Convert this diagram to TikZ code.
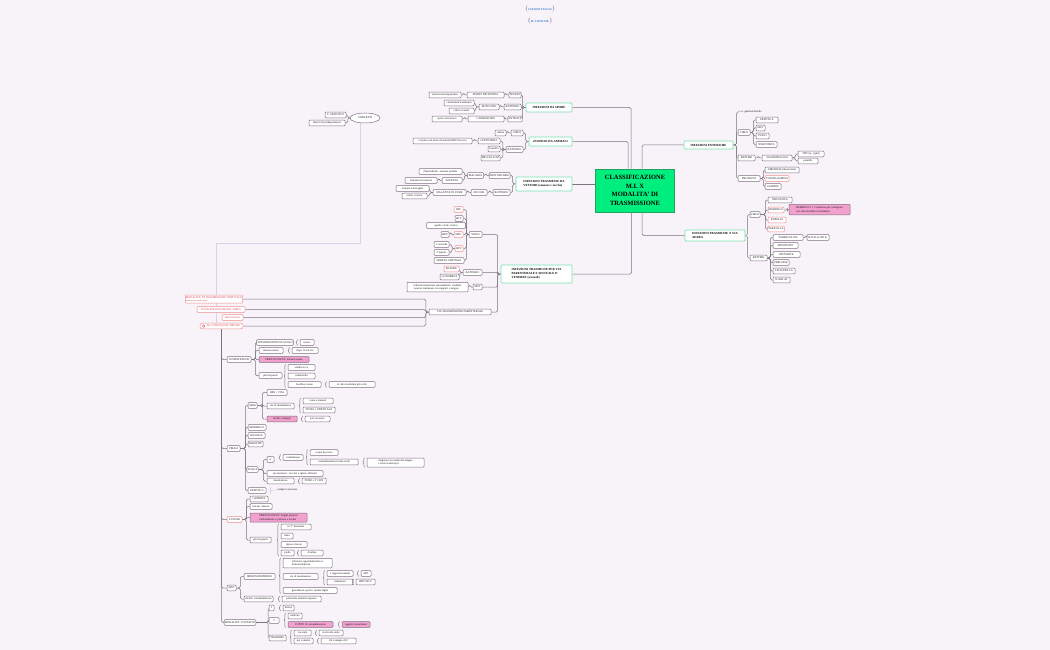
\documentclass[tikz,border=0pt]{standalone}
\usepackage{fontspec}
\setmainfont{Liberation Serif}
\usetikzlibrary{shapes.geometric,decorations.pathreplacing}
\definecolor{bgc}{RGB}{247,243,248}
\definecolor{lnc}{RGB}{125,113,130}
\definecolor{mint}{RGB}{120,225,175}
\definecolor{pinkb}{RGB}{240,140,140}
\definecolor{pinkf}{RGB}{242,160,205}
\definecolor{cgreen}{RGB}{0,238,125}
\definecolor{cbord}{RGB}{40,160,100}
\definecolor{relc}{RGB}{218,208,238}
\definecolor{bluet}{RGB}{50,120,210}
\definecolor{redt}{RGB}{215,60,75}
\pgfdeclarelayer{bg}
\pgfdeclarelayer{lns}
\pgfsetlayers{bg,lns,main}
\tikzset{
  box/.style={draw=lnc, fill=white, rounded corners=0.8pt, line width=0.5pt, inner sep=0.6pt,
    minimum height=5.6pt, font=\fontsize{2.8}{3.2}\selectfont, text=black!90},
  pk/.style={draw=pinkb},
  pkt/.style={draw=pinkb, text=redt},
  pf/.style={fill=pinkf, draw=lnc},
  topic/.style={draw=mint, fill=white, line width=0.7pt, rounded corners=1pt,
    font=\bfseries\fontsize{3.1}{3.9}\selectfont, align=left, inner sep=1.2pt},
  central/.style={draw=cbord, fill=cgreen, line width=0.6pt, align=center,
    font=\bfseries\fontsize{6.5}{8.6}\selectfont, minimum width=79pt, minimum height=43pt, inner sep=1pt},
  conn/.style={draw=lnc, line width=0.5pt, rounded corners=1.5pt},
  brc/.style={draw=lnc, line width=0.45pt, decorate, decoration={brace,amplitude=1.4pt}},
  rel/.style={draw=relc, line width=0.5pt},
  txt/.style={font=\fontsize{2.8}{3.2}\selectfont, inner sep=0.5pt, text=black!90},
  lab/.style={font=\bfseries\fontsize{2.8}{3.3}\selectfont, text=bluet, inner sep=0.5pt}
}
\newcommand\mybox[5][]{\node[box,minimum width=#4pt,#1] (#2) at (#3) {#5};}
\newcommand\lk[3][3]{\draw[conn] (#2.west) -- ++(-#1,0) |- (#3.east);}
\newcommand\rk[3][3]{\draw[conn] (#2.east) -- ++(#1,0) |- (#3.west);}
\newcommand\bk[2]{\draw[brc] ([xshift=-2.2pt]#2.south west) -- ([xshift=-2.2pt]#1.north west);}
\newcommand\paren[1]{\textcolor{lnc}{\fontsize{6.5}{6.5}\selectfont\mdseries(}\,#1\,\textcolor{lnc}{\fontsize{6.5}{6.5}\selectfont\mdseries)}}
\begin{document}
\begin{tikzpicture}[x=1pt,y=-1pt]
\begin{pgfonlayer}{bg}
\fill[bgc] (0,0) rectangle (1050,650);
\end{pgfonlayer}
\useasboundingbox (0,0) rectangle (1050,650);

% top labels
\node[lab] (t1) at (540,9) {\paren{LEZIONI TAGLIO}};
\node[lab] (t2) at (540,21) {\paren{M. STUDIATE}};

% central
\node[central] (cen) at (635,190.5) {CLASSIFICAZIONE\\M.I. X\\MODALITA' DI\\TRASMISSIONE};

% main topics
\node[topic,minimum width=46pt,minimum height=9pt] (spore) at (549,107.5) {INFEZIONI DA SPORE};
\node[topic,minimum width=43pt,minimum height=9pt] (zoo) at (550.5,141.5) {ZOONOSI DA ANIMALI};
\node[topic,minimum width=56pt,minimum height=14pt] (vet) at (544,184) {INFEZIONI TRASMESSE DA\\VETTORI (zanzare e zecche)};
\node[topic,minimum width=71pt,minimum height=18pt] (par) at (536.5,274) {INFEZIONI TRASMESSE PER VIA\\PARENTERALE E SESSUALE O\\VENEREE (sessuali)};
\node[topic,minimum width=49pt,minimum height=8pt] (ent) at (708.5,145) {INFEZIONI ENTERICHE};
\node[topic,minimum width=60pt,minimum height=11pt] (aer) at (715,235.5) {INFEZIONI TRASMESSE X VIA\\AEREA};

% spore
\mybox{s1}{515,95}{12}{TETANO}
\mybox{s1a}{485.5,95}{37}{FERITA PROFONDA}
\mybox{s1b}{445,95}{32}{tossina tetanospasmina}
\mybox{s2}{512.5,107}{17}{BATTERIO}
\mybox{s2a}{489,107}{20}{BOTULINO}
\mybox{s2b}{459,103}{30}{clostridium botulinum}
\mybox{s2c}{461.5,111}{25}{cibi in scatola}
\mybox{s3}{515,119}{12}{ANTRACE}
\mybox{s3a}{486,119}{36}{CARBONCHIO}
\mybox{s3b}{447,119}{30}{spore nel terreno}

% zoonosi
\mybox{z1}{517,133}{12}{VIRUS}
\mybox{z1a}{500.5,133}{11}{rabbia}
\mybox{z2}{514.5,149.5}{17}{BATTERIO}
\mybox{z2a}{489,141}{22}{LEPTOSPIRA}
\mybox{z2b}{442.5,141}{59}{contatto con urina di animali (RSO lavoro)}
\mybox{z2c}{494,149}{12}{brucella}
\mybox{z2d}{490.5,158}{19}{BRUCELLOSI}

% vettori
\mybox{v1}{499.5,175.5}{21}{PROTOZOARIO}
\mybox{v1a}{475.5,175.5}{16}{MALARIA}
\mybox{v1b}{440.5,171.5}{43}{Plasmodium - zanzara anofele}
\mybox{v1c}{452,180.5}{20}{ANOFELE}
\mybox{v1d}{421,180.5}{32}{femmina di zanzara}
\mybox{v2}{501.5,192.5}{17}{BATTERIO}
\mybox{v2a}{479,192.5}{16}{ZECCHE}
\mybox{v2b}{449.5,192.5}{33}{MALATTIA DI LYME}
\mybox{v2c}{412.5,188.5}{33}{eritema a bersaglio}
\mybox{v2d}{414.5,196}{25}{artrite cronica}

% parenterale
\mybox{p1}{475.5,234.5}{13}{VIRUS}
\mybox[pk]{p1a}{458.5,209.5}{9}{HIV}
\mybox{p1b}{459,218.5}{8}{HCV}
\mybox{p1c}{446,225.5}{39}{epatite virale cronica}
\mybox[pk]{p1d}{458.5,234.5}{9}{HBV}
\mybox{p1e}{445,234.5}{8}{HDV}
\mybox[pk]{p1f}{459,248.5}{8}{HPV}
\mybox{p1g}{441.5,244.5}{15}{1 verruche}
\mybox{p1h}{441.5,252.5}{15}{2 tumori}
\mybox{p1i}{449,260.5}{30}{HERPES GENITALE}
\mybox{p2}{472.5,272.5}{19}{BATTERIO}
\mybox[pk]{p2a}{451.5,269}{15}{SIFILIDE}
\mybox{p2b}{449.5,277}{19}{GONORREA}
\mybox{p3}{477.5,287}{9}{MST}
\mybox[align=left,minimum height=9.5pt]{p3a}{437.5,287}{61}{infezioni trasmesse sessualmente: malattie\\veneree trasmesse con rapporti e sangue}
\mybox{p4}{460,312}{62}{VIA TRASMISSIONE PARENTERALE}

% left pink nodes
\mybox[pkt,align=left,minimum height=8pt]{m1}{214,299}{54}{MODALITA' DI TRASMISSIONE VERTICALE\\[-0.6pt]{\fontsize{2.1}{2.5}\selectfont trasmissione madre-figlio}}
\mybox[pkt]{m2}{221,309.5}{48}{FONTI SPECIFICHE DEL VIRUS}
\mybox[pkt]{m3}{232.5,317.5}{21}{fattori rischio}
\mybox[pkt,rounded corners=2pt]{m4}{221.5,326}{43}{\hspace{4pt}M. CONTAGIOSE TIPICHE}
\draw[redt,line width=0.3pt] ([xshift=4pt]m4.west) circle (1.3pt);

% ellipse
\node[draw=lnc,fill=white,ellipse,line width=0.5pt,minimum width=30pt,minimum height=10pt,inner sep=0pt,font=\fontsize{2.8}{3}\selectfont] (el) at (365,118) {CONCETTI};
\mybox{e1}{335.5,115}{21}{T. GENETICO}
\mybox{e2}{327,123}{36}{fattori di predisposizione}

% lower tree
\mybox{a1}{239,359.5}{24}{TOSSINFEZIONI}
\mybox{a2}{233.5,448.5}{13}{VIRALI}
\mybox[pk]{a3}{234.5,519.5}{15}{FUNGHI}
\mybox{a4}{231.5,588}{9}{MST}
\mybox{a5}{240,622.5}{26}{MODALITA' CONTATTO}

\mybox{a1a}{275,342.5}{32}{TOSSINFEZIONI DA SUOLO}
\mybox{a1a1}{307,342.5}{14}{tetano}
\mybox{a1b}{271,350.5}{24}{intossicazione}
\mybox{a1b1}{305,350.5}{26}{dopo 12-24 ore}
\mybox[pf]{a1c}{284,359.5}{50}{PERICOLOSITÀ: intossicazione}
\mybox{a1d}{270.5,375.5}{23}{più frequenti}
\mybox{a1d1}{301.5,367.5}{27}{stafilococco}
\mybox{a1d2}{301.5,376}{27}{salmonella}
\mybox{a1d3}{304.5,384.5}{33}{bacillus cereus}
\mybox{a1d4}{352,384.5}{46}{al cibo riscaldato più volte}

\mybox{b1}{252.5,405.5}{9}{ARIA}
\mybox{b2}{257,427.5}{18}{MORBILLO}
\mybox{b3}{256.5,435.5}{17}{ROSOLIA}
\mybox{b4}{255.5,444}{15}{PAROTITE}
\mybox{b5}{252.5,469.5}{9}{ACQUA}
\mybox{b6}{257,490.5}{18}{EPATITE A}
\node[txt,anchor=west] (b6t) at (277,490) {sempre vaccinare};
\mybox{b1a}{277,392.5}{20}{HBV - T.Dsi}
\mybox{b1b}{280.5,406}{27}{vie di trasmissione}
\mybox{b1b1}{318,401}{30}{tosse e starnuti}
\mybox{b1b2}{319,410}{32}{TOSSE e VERTICALE}
\mybox[pf]{b1c}{282,419}{30}{rischio contagio}
\mybox{b1c1}{317.5,419}{25}{per via aerea}
\mybox{b5a}{270.5,459.5}{7}{sì}
\mybox{b5a1}{293,457.5}{20}{contaminata}
\mybox{b5a2}{324,452.5}{28}{acqua di pozzo}
\mybox{b5a3}{334,462}{48}{contaminazione fecale-orale}
\mybox[align=left,minimum height=9pt]{b5a4}{395.5,462.5}{57}{diagnosi con esami del sangue\\e ricerca anticorpi}
\mybox{b5b}{295,473.5}{56}{prevenzione: vaccino e igiene alimenti}
\mybox{b5c}{280.5,481}{27}{trasmissione}
\mybox{b5d}{314,481}{24}{TUBO e T. GEN}

\mybox{c1}{259,499}{18}{CANDIDA}
\mybox{c2}{261,506.5}{22}{micosi cutanee}
\mybox[pf,align=left,minimum height=9pt]{c3}{278.5,517.5}{57}{PERICOLOSITÀ: funghi presenti\\nell'ambiente e persone a rischio}
\mybox{c4}{260.5,540}{21}{più frequenti}
\mybox{c4a}{296,527}{30}{in 2° momento}
\mybox{c4b}{287,536}{12}{tinea}
\mybox{c4c}{294,544.5}{26}{tigna e micosi}
\mybox{c4d}{287.5,553}{13}{piede}
\mybox{c4e}{312,553}{22}{di atleta}

\mybox{d1}{259.5,576.5}{31}{IMMUNODEPRESSI}
\mybox[align=left,minimum height=9.5pt]{d1a}{307.5,563}{49}{infezioni opportunistiche se\\immunodepressi}
\mybox{d1b}{300.5,576.5}{35}{vie di trasmissione}
\mybox{d1b1}{340,573.5}{26}{1 rapporti sessuali}
\mybox{d1b2}{366,573.5}{10}{HIV}
\mybox{d1b3}{340,582}{26}{trasfusioni}
\mybox{d1b4}{365.5,582}{19}{HBV/HCV}
\mybox{d1c}{310,590.5}{54}{gravidanza e parto: madre-figlio}
\mybox{d2}{258.5,599}{29}{rischio contaminazione}
\mybox{d2a}{301.5,599}{39}{personale sanitario esposto}

\mybox{f1}{271.5,608}{5}{1}
\mybox{f1a}{288.5,608}{11}{diretto}
\mybox{f2}{274,620.5}{10}{2}
\mybox{f2a}{295,616}{14}{indiretto}
\mybox[pf]{f2b}{310.5,624.5}{45}{FONTE di contaminazione}
\mybox[pf]{f2c}{356,624.5}{28}{oggetti contaminati}
\mybox{f3}{277.5,638}{17}{TRASMISS.}
\mybox{f3a}{302.5,633}{17}{via orale}
\mybox{f3b}{331,633}{24}{via fecale-orale}
\mybox{f3c}{303.5,641}{19}{per contatto}
\mybox{f3d}{338.5,641}{35}{chi contagia chi?}

% right: enteriche
\node[txt,anchor=west] (en0) at (739,112) {c.a. gastroenteriche};
\mybox{en1}{744,132.5}{12}{VIRUS}
\mybox{en1a}{767,120}{22}{EPATITE A}
\mybox{en1b}{760.5,128}{9}{HEV}
\mybox{en1c}{762.5,136}{13}{POLIO}
\mybox{en1d}{766.5,144.5}{21}{NOROVIRUS}
\mybox{en2}{746.5,158}{17}{BATTERI}
\mybox{en2a}{777,158}{30}{SALMONELLOSI}
\mybox{en2b}{811,154}{26}{TIFO (s. typhi)}
\mybox{en2c}{808,161}{20}{paratifo}
\mybox{en3}{749,178.5}{22}{PROTOZOI}
\mybox{en3a}{782,170}{34}{AMEBIASI (dissenteria)}
\mybox[pk]{en3b}{777,178.5}{24}{TOXOPLASMOSI}
\mybox{en3c}{773,186.5}{16}{GIARDIA}

% right: aerea
\mybox{ar1}{755,214.5}{10}{VIRUS}
\mybox{ar1a}{780,200}{24}{INFLUENZA}
\mybox[pk]{ar1b}{776,210}{16}{MORBILLO}
\mybox[pf,align=left,minimum height=10.5pt]{ar1c}{819.5,209.5}{61}{MORBILLO: 1° esantema più contagioso\\con alta mortalità nei bambini}
\mybox[pk]{ar1d}{777,220}{18}{ROSOLIA}
\mybox[pk]{ar1e}{776,229}{16}{VARICELLA}
\mybox{ar2}{758.5,258}{17}{BATTERI}
\mybox{ar2a}{788,237.5}{30}{TUBERCOLOSI}
\mybox{ar2b}{818,237.5}{22}{BACILLO DI K.}
\mybox{ar2c}{785.5,245.5}{25}{MENINGITE}
\mybox{ar2d}{786.5,254.5}{27}{DIFTERITE}
\mybox{ar2e}{781,262.5}{16}{PERTOSSE}
\mybox{ar2f}{784,271}{22}{LEGIONELLA}
\mybox{ar2g}{781.5,280}{17}{SCARLAT.}

% ---------------- connectors ----------------
\begin{pgfonlayer}{lns}
\coordinate (xa) at (631,0);
\coordinate (xb) at (628,0);
\coordinate (xc) at (642,0);
\coordinate (xd) at (631.5,0);
\draw[conn] (spore.east) -| (cen.north -| xa);
\draw[conn] (zoo.east) -| (cen.north -| xb);
\draw[conn] (vet.east) -- (vet.east -| cen.west);
\draw[conn] (par.east) -| (cen.south -| xd);
\draw[conn] (ent.west) -| (cen.north -| xc);
\draw[conn] (aer.west) -| (cen.south -| xc);

\lk{spore}{s1}\lk{spore}{s2}\lk{spore}{s3}
\lk{s1}{s1a}\lk{s1a}{s1b}
\lk{s2}{s2a}\lk{s2a}{s2b}\lk{s2a}{s2c}
\lk{s3}{s3a}\lk{s3a}{s3b}
\lk{zoo}{z1}\lk{zoo}{z2}
\lk{z1}{z1a}
\lk{z2}{z2a}\lk{z2}{z2c}\lk{z2}{z2d}
\lk{z2a}{z2b}
\lk{vet}{v1}\lk{vet}{v2}
\lk{v1}{v1a}\lk{v1a}{v1b}\lk{v1a}{v1c}\lk{v1c}{v1d}
\lk{v2}{v2a}\lk{v2a}{v2b}\lk{v2b}{v2c}\lk{v2b}{v2d}
\lk{par}{p1}\lk{par}{p2}\lk{par}{p3}\lk{par}{p4}
\lk[2.5]{p1}{p1a}\lk[2.5]{p1}{p1b}\lk[2.5]{p1}{p1c}\lk[2.5]{p1}{p1d}\lk[2.5]{p1}{p1f}\lk[2.5]{p1}{p1i}
\lk{p1d}{p1e}
\lk{p1f}{p1g}\lk{p1f}{p1h}
\lk{p2}{p2a}\lk{p2}{p2b}
\lk{p3}{p3a}
\lk{p4}{m1}\lk{p4}{m2}\lk{p4}{m3}\lk{p4}{m4}
\lk[2]{el}{e1}\lk[2]{el}{e2}

\coordinate (rcr) at (216,243);
\draw[rel] (el.225) |- (rcr) -- (rcr |- m4.north);

\draw[conn] (m4.south) |- (a1.west);
\draw[conn] (m4.south) |- (a2.west);
\draw[conn] (m4.south) |- (a3.west);
\draw[conn] (m4.south) |- (a4.west);
\draw[conn] (m4.south) |- (a5.west);

\rk[4]{a1}{a1a}\rk[4]{a1}{a1b}\rk[4]{a1}{a1c}\rk[4]{a1}{a1d}
\rk[5]{a2}{b1}\rk[5]{a2}{b2}\rk[5]{a2}{b3}\rk[5]{a2}{b4}\rk[5]{a2}{b5}\rk[5]{a2}{b6}
\rk[5]{b1}{b1a}\rk[5]{b1}{b1b}\rk[5]{b1}{b1c}
\rk[5]{b5}{b5a}\rk[5]{b5}{b5b}\rk[5]{b5}{b5c}
\rk[4]{a3}{c1}\rk[4]{a3}{c2}\rk[4]{a3}{c3}\rk[4]{a3}{c4}
\rk[4]{a4}{d1}\rk[4]{a4}{d2}
\rk[12]{a5}{f1}\rk[12]{a5}{f2}\rk[12]{a5}{f3}

\draw[rel] ([xshift=4pt]b6.north east) -- ([xshift=4pt]b6.south east);
\draw[rel] ([xshift=4pt]b6.east) -- (b6t.west);

\rk{ent}{en0}\rk{ent}{en1}\rk{ent}{en2}\rk{ent}{en3}
\rk{en1}{en1a}\rk{en1}{en1b}\rk{en1}{en1c}\rk{en1}{en1d}
\rk{en2}{en2a}\rk{en2a}{en2b}\rk{en2a}{en2c}
\rk{en3}{en3a}\rk{en3}{en3b}\rk{en3}{en3c}
\rk[2]{aer}{ar1}\rk[2]{aer}{ar2}
\rk[5]{ar1}{ar1a}\rk[5]{ar1}{ar1b}\rk[5]{ar1}{ar1d}\rk[5]{ar1}{ar1e}
\rk{ar1b}{ar1c}
\rk[3]{ar2}{ar2a}\rk[3]{ar2}{ar2c}\rk[3]{ar2}{ar2d}\rk[3]{ar2}{ar2e}\rk[3]{ar2}{ar2f}\rk[3]{ar2}{ar2g}
\rk{ar2a}{ar2b}
\end{pgfonlayer}

% braces
\bk{a1a1}{a1a1}\bk{a1b1}{a1b1}\bk{a1d1}{a1d3}\bk{a1d4}{a1d4}
\bk{b1b1}{b1b2}\bk{b1c1}{b1c1}
\bk{b5a1}{b5a1}\bk{b5a2}{b5a3}\bk{b5a4}{b5a4}\bk{b5d}{b5d}
\bk{c4a}{c4d}\bk{c4e}{c4e}
\bk{d1a}{d1c}\bk{d1b1}{d1b3}\bk{d1b2}{d1b2}\bk{d1b4}{d1b4}\bk{d2a}{d2a}
\bk{f1a}{f1a}\bk{f2a}{f2b}\bk{f2c}{f2c}\bk{f3a}{f3c}\bk{f3b}{f3b}\bk{f3d}{f3d}
\end{tikzpicture}
\end{document}
